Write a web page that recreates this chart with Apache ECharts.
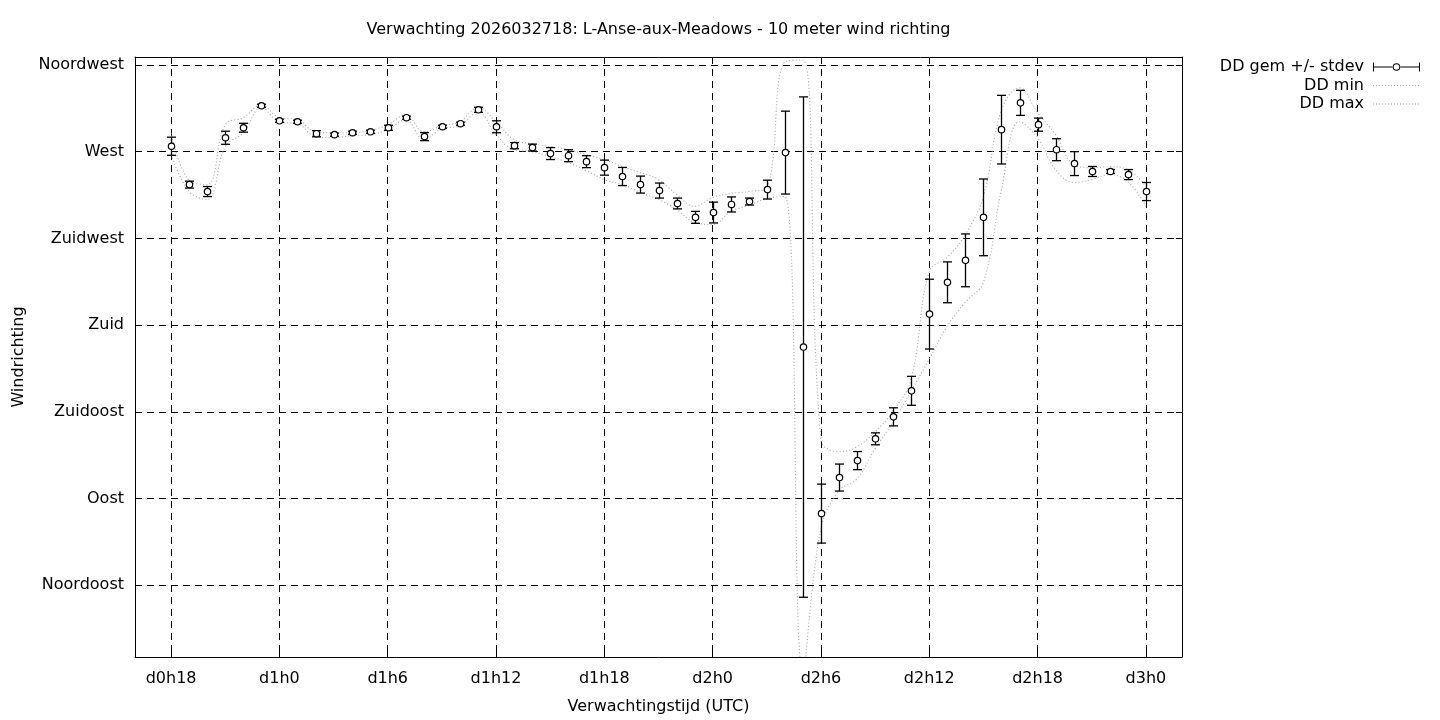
<!DOCTYPE html>
<html><head><meta charset="utf-8">
<script src="https://cdn.jsdelivr.net/npm/echarts@6/dist/echarts.min.js"></script>
<style>html,body{margin:0;padding:0;background:#fff}#c{width:1440px;height:720px}</style>
</head><body><div id="c"></div>
<script>
// forecast hour (hours since d0h0)
const hours = [18,19,20,21,22,23,24,25,26,27,28,29,30,31,32,33,34,35,36,37,38,39,40,41,42,43,44,45,46,47,48,49,50,51,52,53,54,55,56,57,58,59,60,61,62,63,64,65,66,67,68,69,70,71,72];
const ddMean = [272.8,252.9,249.3,277.2,282.4,293.8,286.0,285.5,279.3,278.8,279.8,280.3,282.4,287.6,277.8,282.9,284.5,291.7,282.9,273.1,272.1,269.0,267.9,264.8,261.7,257.1,252.9,249.8,243.1,235.9,238.4,242.6,244.1,250.3,269.5,168.6,82.2,100.9,109.7,121.0,132.4,145.9,185.7,202.2,213.6,235.9,281.4,295.3,284.0,271.0,263.8,259.7,259.7,258.1,249.3];
const ddStdev = [4.7,1.8,2.6,3.4,2.3,0.8,0.8,0.8,1.6,0.8,0.8,0.8,1.3,0.8,2.1,0.8,0.8,1.3,3.1,1.6,1.8,3.1,3.1,3.1,3.9,4.7,4.4,3.9,2.8,3.1,5.4,3.9,1.8,4.9,21.5,129.8,15.3,7.0,4.7,3.1,4.7,7.5,18.1,10.6,13.7,19.9,17.8,6.5,3.4,5.7,6.2,2.6,1.0,2.6,4.7];
const ddMin = [268.4,249.3,245.2,272.6,279.8,292.8,285.5,284.5,277.8,277.2,278.3,278.8,281.4,286.6,276.2,281.9,283.4,290.7,278.8,271.0,270.0,267.4,264.3,260.2,255.5,252.9,248.8,245.2,240.0,233.3,232.2,239.0,242.1,245.7,246.7,0.0,74.5,94.1,100.3,115.9,129.8,145.9,162.4,179.5,191.9,202.2,250.3,285.5,277.2,260.7,254.0,255.5,258.1,254.5,241.6];
const ddMax = [279.8,255.0,252.9,284.0,287.6,294.3,287.6,286.6,280.3,279.8,279.8,280.9,284.0,289.1,280.3,283.4,285.5,292.8,285.5,276.2,274.1,272.6,271.0,268.4,265.9,262.2,259.1,255.5,247.8,241.6,246.2,248.3,249.3,251.4,316.6,317.5,120.5,114.3,116.9,124.6,135.5,152.1,207.9,215.2,227.1,246.7,291.7,303.1,290.2,278.8,263.3,261.7,262.2,260.7,251.9];
const xTickValues = [18,24,30,36,42,48,54,60,66,72];
const xTickLabels = ['d0h18','d1h0','d1h6','d1h12','d1h18','d2h0','d2h6','d2h12','d2h18','d3h0'];
const yTickValues = [45,90,135,180,225,270,315];
const yTickLabels = ['Noordoost','Oost','Zuidoost','Zuid','Zuidwest','West','Noordwest'];
const titleText = 'Verwachting 2026032718: L-Anse-aux-Meadows - 10 meter wind richting';
const seriesNames = ['DD gem +/- stdev','DD min','DD max'];

const FONT = 'DejaVu Sans';
const chart = echarts.init(document.getElementById('c'), null, {renderer:'canvas'});

const gridL = 135, gridR = 258, gridT = 57, gridB = 61;
const plotCenter = gridL + (1440 - gridL - gridR) / 2;
const cv = document.createElement('canvas').getContext('2d');
cv.font = '16px "' + FONT + '"';
const titleW = cv.measureText(titleText).width;

const errData = hours.map((h, i) => [h, ddMean[i], ddStdev[i]]);
const minData = hours.map((h, i) => [h, ddMin[i]]);
const maxData = hours.map((h, i) => [h, ddMax[i]]);

const legendIcon = 'path://M0,0h1v9h-1z M46,0h1v9h-1z M1,4h19v1h-19z M27,4h19v1h-19z ' +
  'M19.7,4.5 A3.8,3.8 0 1 0 27.3,4.5 A3.8,3.8 0 1 0 19.7,4.5 Z ' +
  'M20.7,4.5 A2.8,2.8 0 1 1 26.3,4.5 A2.8,2.8 0 1 1 20.7,4.5 Z';
let dotPath = 'path://M0,0h0.01v9h-0.01z M46.99,0h0.01v9h-0.01z';
for (let dx = 0; dx < 47; dx += 3) dotPath += ' M' + dx + ',4h1v1h-1z';

const gridLine = {show:true, lineStyle:{color:'#000', width:1, type:[7,5]}};

function xLabel(v){ const i = xTickValues.indexOf(v); return i >= 0 ? xTickLabels[i] : ''; }
function yLabel(v){ const i = yTickValues.indexOf(v); return i >= 0 ? yTickLabels[i] : ''; }

const option = {
  animation: false,
  backgroundColor: '#fff',
  textStyle: {fontFamily: FONT},
  title: {
    text: titleText,
    left: plotCenter - titleW / 2,
    top: 22,
    padding: 0,
    textStyle: {fontFamily: FONT, fontSize: 16, fontWeight: 'normal', color: '#000'}
  },
  legend: {
    orient: 'vertical',
    align: 'right',
    right: 20,
    top: 58,
    itemWidth: 47,
    itemHeight: 9,
    itemGap: 0.5,
    padding: 0,
    textStyle: {fontFamily: FONT, fontSize: 16, color: '#000', lineHeight: 18, padding: [0, 4, 0, 0]},
    data: [
      {name: seriesNames[0], icon: legendIcon, itemStyle: {color: '#000'}},
      {name: seriesNames[1], icon: dotPath, itemStyle: {color: '#a0a0a0', borderWidth: 0}, lineStyle: {opacity: 0}},
      {name: seriesNames[2], icon: dotPath, itemStyle: {color: '#a0a0a0', borderWidth: 0}, lineStyle: {opacity: 0}}
    ]
  },
  grid: {left: gridL, right: gridR, top: gridT, bottom: gridB, containLabel: false},
  xAxis: [{
    type: 'value', min: 16, max: 74,
    name: 'Verwachtingstijd (UTC)', nameLocation: 'middle', nameGap: 42,
    nameTextStyle: {fontFamily: FONT, fontSize: 16, color: '#000'},
    axisLine: {show: true, onZero: false, lineStyle: {color: '#000', width: 1}},
    axisTick: {show: true, inside: true, length: 6, customValues: xTickValues, lineStyle: {color: '#000'}},
    axisLabel: {show: true, customValues: xTickValues, formatter: xLabel, margin: 14, fontFamily: FONT, fontSize: 16, color: '#000'},
    splitLine: gridLine
  }, {
    type: 'value', min: 16, max: 74, position: 'top',
    axisLine: {show: true, onZero: false, lineStyle: {color: '#000', width: 1}},
    axisTick: {show: true, inside: true, length: 6, customValues: xTickValues, lineStyle: {color: '#000'}},
    axisLabel: {show: false},
    splitLine: {show: false}
  }],
  yAxis: [{
    type: 'value', min: 7.8, max: 319.1,
    name: 'Windrichting', nameLocation: 'middle', nameGap: 108, nameRotate: 90,
    nameTextStyle: {fontFamily: FONT, fontSize: 16, color: '#000'},
    axisLine: {show: true, onZero: false, lineStyle: {color: '#000', width: 1}},
    axisTick: {show: true, inside: true, length: 6, customValues: yTickValues, lineStyle: {color: '#000'}},
    axisLabel: {show: true, customValues: yTickValues, formatter: yLabel, margin: 11, padding: [4, 0, 0, 0], fontFamily: FONT, fontSize: 16, color: '#000'},
    splitLine: gridLine
  }, {
    type: 'value', min: 7.8, max: 319.1, position: 'right',
    axisLine: {show: true, onZero: false, lineStyle: {color: '#000', width: 1}},
    axisTick: {show: true, inside: true, length: 6, customValues: yTickValues, lineStyle: {color: '#000'}},
    axisLabel: {show: false},
    splitLine: {show: false}
  }],
  series: [
    {
      name: seriesNames[1], type: 'line', data: minData, smooth: 0.4,
      showSymbol: false, symbol: 'none', clip: true, z: 2,
      lineStyle: {color: '#aaaaaa', width: 1.1, type: [1.1, 2.2]},
      itemStyle: {color: '#a0a0a0'}
    },
    {
      name: seriesNames[2], type: 'line', data: maxData, smooth: 0.4,
      showSymbol: false, symbol: 'none', clip: true, z: 2,
      lineStyle: {color: '#aaaaaa', width: 1.1, type: [1.1, 2.2]},
      itemStyle: {color: '#a0a0a0'}
    },
    {
      name: seriesNames[0], type: 'custom', data: errData, z: 5,
      itemStyle: {color: '#000'},
      encode: {x: 0, y: 1},
      renderItem: function (params, api) {
        const x = api.value(0), m = api.value(1), s = api.value(2);
        const top = api.coord([x, m + s]);
        const bot = api.coord([x, m - s]);
        const c = api.coord([x, m]);
        const px = Math.round(c[0]) + 0.5;
        const w = 4.5;
        return {
          type: 'group',
          children: [
            {type: 'line', shape: {x1: px, y1: top[1], x2: px, y2: bot[1]}, style: {stroke: '#000', lineWidth: 1.3}},
            {type: 'line', shape: {x1: px - w, y1: top[1], x2: px + w, y2: top[1]}, style: {stroke: '#000', lineWidth: 1.3}},
            {type: 'line', shape: {x1: px - w, y1: bot[1], x2: px + w, y2: bot[1]}, style: {stroke: '#000', lineWidth: 1.3}},
            {type: 'circle', shape: {cx: px, cy: c[1], r: 3.2}, style: {fill: '#fff', stroke: '#000', lineWidth: 1.2}}
          ]
        };
      }
    }
  ]
};
chart.setOption(option);
</script>
</body></html>
